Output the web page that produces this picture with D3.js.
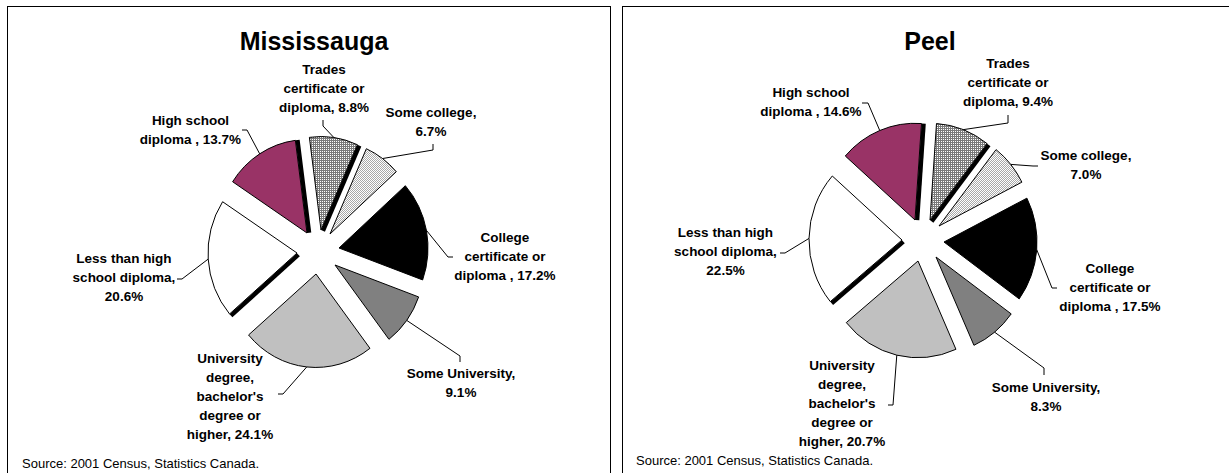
<!DOCTYPE html>
<html>
<head>
<meta charset="utf-8">
<script src="https://cdn.jsdelivr.net/npm/d3@7"></script>
<style>
  html, body { margin: 0; padding: 0; background: #fff; }
  svg { display: block; }
  text { font-family: "Liberation Sans", Arial, Helvetica, sans-serif; fill: #000; }
</style>
</head>
<body>
<svg id="chart" width="1229" height="473"></svg>
<script>
// Highest level of schooling, population 20+ (percent)
const categories = [
  "Trades certificate or diploma",
  "Some college",
  "College certificate or diploma ",
  "Some University",
  "University degree, bachelor's degree or higher",
  "Less than high school diploma",
  "High school diploma "
];
const mississaugaValues = [8.8, 6.7, 17.2, 9.1, 24.1, 20.6, 13.7];
const peelValues = [9.4, 7.0, 17.5, 8.3, 20.7, 22.5, 14.6];
const chartTitles = ["Mississauga", "Peel"];
const sourceNote = "Source: 2001 Census, Statistics Canada.";

// slice fills, in category order ("pat:" = hatch pattern)
const sliceFills = ["pat:grid", "pat:dots", "#000000", "#808080", "#c0c0c0", "#ffffff", "#993366"];
// slices that show a dark side wall along one radial edge
const sideBands = [{ index: 0, edge: "end" }, { index: 5, edge: "start" }, { index: 6, edge: "end" }];

// label placement relative to each pie centre
const mississaugaLabels = [
  { dx: 6,      dy: -178, breaks: [1, 2, 2],       start: [5, -132],   elbow: [5, -126] },
  { dx: 113,    dy: -135, breaks: [2, 1],          start: [115, -108], elbow: [115, -102] },
  { dx: 187,    dy: -10,  breaks: [1, 2, 3],       start: [135, 5],    elbow: [130, 5] },
  { dx: 143,    dy: 126,  breaks: [2, 1],          start: [142, 110],  elbow: [142, 104] },
  { dx: -88,    dy: 111,  breaks: [1, 1, 1, 2, 2], start: [-40, 142],  elbow: [-35, 142] },
  { dx: -194,   dy: 11,   breaks: [3, 2, 1],       start: [-141, 27],  elbow: [-136, 27] },
  { dx: -127.5, dy: -127, breaks: [2, 3],          start: [-76, -122], elbow: [-71, -122] }
];
const peelLabels = [
  { dx: 85,     dy: -172, breaks: [1, 2, 2],       start: [85, -125],  elbow: [85, -117] },
  { dx: 163,    dy: -80,  breaks: [2, 1],          start: [115, -74],  elbow: [110, -74] },
  { dx: 187,    dy: 33,   breaks: [1, 2, 3],       start: [134, 48],   elbow: [129, 48] },
  { dx: 123,    dy: 152,  breaks: [2, 1],          start: [121, 135],  elbow: [121, 128] },
  { dx: -81,    dy: 130,  breaks: [1, 1, 1, 2, 2], start: [-35, 165],  elbow: [-30, 165] },
  { dx: -197.5, dy: -3,   breaks: [3, 2, 1],       start: [-143, 13],  elbow: [-138, 13] },
  { dx: -112,   dy: -143, breaks: [2, 3],          start: [-61, -137], elbow: [-55, -137] }
];

const panels = [
  { id: "m", title: chartTitles[0], values: mississaugaValues, labels: mississaugaLabels,
    frame: { x: 7.5, y: 6.5, w: 603, h: 480 }, cx: 318, cy: 252, r: 89, ky: 1.05, explode: 21,
    rotation: -7.5, titleX: 314, titleY: 50, sourceX: 22, sourceY: 467.5 },
  { id: "p", title: chartTitles[1], values: peelValues, labels: peelLabels,
    frame: { x: 622.5, y: 6.5, w: 620, h: 480 }, cx: 923, cy: 240, r: 93, ky: 1.04, explode: 21,
    rotation: 4, titleX: 930, titleY: 50, sourceX: 636, sourceY: 464.5 }
];

const svg = d3.select("#chart");
const defs = svg.append("defs");

function makePatterns(id, ky) {
  // dark grid: grey with a white pixel in every 2x2 cell
  const g = defs.append("pattern").attr("id", id + "-grid")
    .attr("patternUnits", "userSpaceOnUse").attr("width", 2).attr("height", 2)
    .attr("patternTransform", `scale(1,${1 / ky})`);
  g.append("rect").attr("width", 2).attr("height", 2).attr("fill", "#7a7a7a");
  g.append("rect").attr("x", 1).attr("y", 1).attr("width", 1).attr("height", 1).attr("fill", "#ffffff");
  // light dots: white with a grey checker
  const d = defs.append("pattern").attr("id", id + "-dots")
    .attr("patternUnits", "userSpaceOnUse").attr("width", 2).attr("height", 2)
    .attr("patternTransform", `scale(1,${1 / ky})`);
  d.append("rect").attr("width", 2).attr("height", 2).attr("fill", "#ffffff");
  d.append("rect").attr("x", 0).attr("y", 0).attr("width", 1).attr("height", 1).attr("fill", "#a8a8a8");
  d.append("rect").attr("x", 1).attr("y", 1).attr("width", 1).attr("height", 1).attr("fill", "#a8a8a8");
}

function fillFor(id, i) {
  const f = sliceFills[i];
  return f.startsWith("pat:") ? `url(#${id}-${f.slice(4)})` : f;
}

panels.forEach(p => {
  makePatterns(p.id, p.ky);

  // frame
  svg.append("rect")
    .attr("x", p.frame.x).attr("y", p.frame.y)
    .attr("width", p.frame.w).attr("height", p.frame.h)
    .attr("fill", "none").attr("stroke", "#000").attr("stroke-width", 1);

  // title
  svg.append("text")
    .attr("x", p.titleX).attr("y", p.titleY)
    .attr("text-anchor", "middle")
    .style("font-size", "25px").style("font-weight", "bold")
    .text(p.title);

  const a0 = p.rotation * Math.PI / 180;
  const pie = d3.pie().sort(null).value(d => d).startAngle(a0).endAngle(a0 + 2 * Math.PI);
  const arcs = pie(p.values);
  const arc = d3.arc().innerRadius(0).outerRadius(p.r);

  const pieG = svg.append("g")
    .attr("transform", `translate(${p.cx},${p.cy}) scale(1,${p.ky})`);

  // exploded offsets (kept on whole pixels so the hatch stays crisp)
  const offsets = arcs.map(a => {
    const mid = (a.startAngle + a.endAngle) / 2;
    const ox = Math.round(Math.sin(mid) * p.explode);
    const oy = Math.round(-Math.cos(mid) * p.explode * p.ky) / p.ky;
    return [ox, oy];
  });

  const slices = pieG.selectAll("g.slice").data(arcs).join("g")
    .attr("class", "slice")
    .attr("transform", (a, i) => `translate(${offsets[i][0]},${offsets[i][1]})`);

  slices.append("path")
    .attr("d", arc)
    .attr("fill", (a, i) => fillFor(p.id, i))
    .attr("stroke", "#000")
    .attr("stroke-width", 1)
    .attr("stroke-linejoin", "round")
    .attr("vector-effect", "non-scaling-stroke");

  // side walls along a radial edge
  sideBands.forEach(sb => {
    const a = arcs[sb.index];
    const ang = sb.edge === "end" ? a.endAngle : a.startAngle;
    const sgn = sb.edge === "end" ? 1 : -1;
    const nx = sgn * Math.cos(ang) * 2.2, ny = sgn * Math.sin(ang) * 2.2;
    const [ox, oy] = offsets[sb.index];
    pieG.append("line")
      .attr("x1", ox + nx).attr("y1", oy + ny)
      .attr("x2", ox + nx + Math.sin(ang) * p.r).attr("y2", oy + ny - Math.cos(ang) * p.r)
      .attr("stroke", "#000").attr("stroke-width", 4.2)
      .attr("vector-effect", "non-scaling-stroke");
  });

  // leader lines (to the middle of each arc) and labels
  arcs.forEach((a, i) => {
    const L = p.labels[i];
    const ang = (a.startAngle + a.endAngle) / 2;
    const [ox, oy] = offsets[i];
    const ex = p.cx + ox + Math.sin(ang) * p.r;
    const ey = p.cy + p.ky * (oy - Math.cos(ang) * p.r);
    const path = d3.path();
    path.moveTo(p.cx + L.start[0], p.cy + L.start[1]);
    path.lineTo(p.cx + L.elbow[0], p.cy + L.elbow[1]);
    path.lineTo(ex, ey);
    svg.append("path")
      .attr("d", path.toString())
      .attr("fill", "none").attr("stroke", "#000").attr("stroke-width", 1);

    const label = `${categories[i]}, ${p.values[i].toFixed(1)}%`;
    const words = label.split(" ").filter(w => w.length);
    const lines = [];
    let k = 0;
    L.breaks.forEach(n => { lines.push(words.slice(k, k + n).join(" ")); k += n; });

    const t = svg.append("text")
      .attr("text-anchor", "middle")
      .style("font-size", "13.5px").style("font-weight", "bold");
    lines.forEach((ln, j) => {
      t.append("tspan")
        .attr("x", p.cx + L.dx)
        .attr("y", p.cy + L.dy + j * 19)
        .text(ln);
    });
  });

  // source note
  svg.append("text")
    .attr("x", p.sourceX).attr("y", p.sourceY)
    .style("font-size", "13px")
    .text(sourceNote);
});
</script>
</body>
</html>
